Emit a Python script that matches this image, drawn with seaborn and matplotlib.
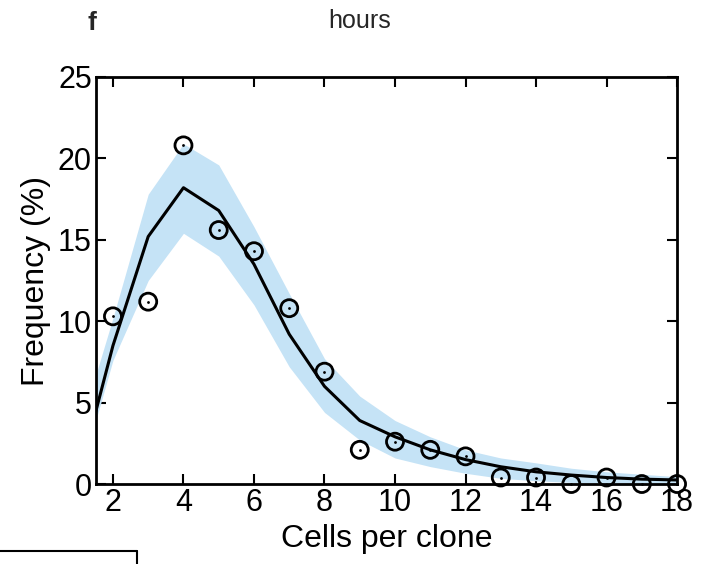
import numpy as np
import pandas as pd
import matplotlib.pyplot as plt
import seaborn as sns
from matplotlib.lines import Line2D

# Datos observados (círculos)
cells_obs = [2, 3, 4, 5, 6, 7, 8, 9, 10, 11, 12, 13, 14, 15, 16, 17, 18]
freq_obs = [10.3, 11.2, 20.8, 15.6, 14.3, 10.8, 6.9, 2.1, 2.6, 2.1, 1.7,
            0.4, 0.4, 0.0, 0.4, 0.0, 0.0]

# Modelo (línea) y banda de confianza
cells_mod = [1, 2, 3, 4, 5, 6, 7, 8, 9, 10, 11, 12, 13, 14, 15, 16, 17, 18]
freq_mod = [0.2, 8.5, 15.2, 18.2, 16.8, 13.5, 9.2, 6.0, 3.9, 2.9, 2.1, 1.5,
            1.06, 0.75, 0.55, 0.4, 0.3, 0.25]
band_hi = [3.0, 10.2, 17.8, 20.9, 19.6, 15.8, 11.7, 7.7, 5.4, 3.9, 2.9, 2.1,
           1.6, 1.3, 0.97, 0.75, 0.6, 0.45]
band_lo = [0.0, 7.6, 12.5, 15.4, 14.0, 11.0, 7.2, 4.4, 2.7, 1.6, 1.07, 0.66,
           0.35, 0.2, 0.1, 0.05, 0.05, 0.05]

df_obs = pd.DataFrame({'cells': cells_obs, 'freq': freq_obs})
df_mod = pd.DataFrame({'cells': cells_mod, 'freq': freq_mod})

sns.set_style('ticks')
plt.rcParams['font.family'] = ['Liberation Sans', 'DejaVu Sans']

fig = plt.figure(figsize=(7.03, 5.64), dpi=100)
ax = fig.add_axes([0.1366, 0.1418, 0.8265, 0.7217])

ax.fill_between(cells_mod, band_lo, band_hi, color='#c5e3f6', linewidth=0, zorder=1)
sns.lineplot(data=df_mod, x='cells', y='freq', color='black', linewidth=2.2, ax=ax, zorder=2)
sns.scatterplot(data=df_obs, x='cells', y='freq', marker='o', s=150,
                facecolor='none', edgecolor='black', linewidth=2, ax=ax,
                zorder=3, clip_on=False)
sns.scatterplot(data=df_obs, x='cells', y='freq', marker='o', s=4,
                color='black', linewidth=0, ax=ax, zorder=4, clip_on=False)

ax.set_xlim(1.52, 18)
ax.set_ylim(0, 25)
ax.set_xticks([2, 4, 6, 8, 10, 12, 14, 16, 18])
ax.set_yticks([0, 5, 10, 15, 20, 25])
ax.tick_params(direction='in', length=7, width=1.5, labelsize=22,
               top=True, right=True, pad=3, colors='black')
for sp in ax.spines.values():
    sp.set_linewidth(2)
    sp.set_color('black')

ax.set_xlabel('Cells per clone', fontsize=23, labelpad=4, color='black')
ax.set_ylabel('Frequency (%)', fontsize=23, labelpad=5, color='black')

fig.text(0.512, 0.962, 'hours', fontsize=18, ha='center', va='center')
fig.text(0.131, 0.960, 'f', fontsize=19, fontweight='bold', ha='center', va='center')

# Borde de un panel vecino (esquina inferior izquierda)
fig.add_artist(Line2D([0, 0.195], [0.023, 0.023], color='black', linewidth=1.5,
                      transform=fig.transFigure))
fig.add_artist(Line2D([0.195, 0.195], [0.023, 0.0], color='black', linewidth=1.5,
                      transform=fig.transFigure))

fig.savefig('out.png', dpi=100)
